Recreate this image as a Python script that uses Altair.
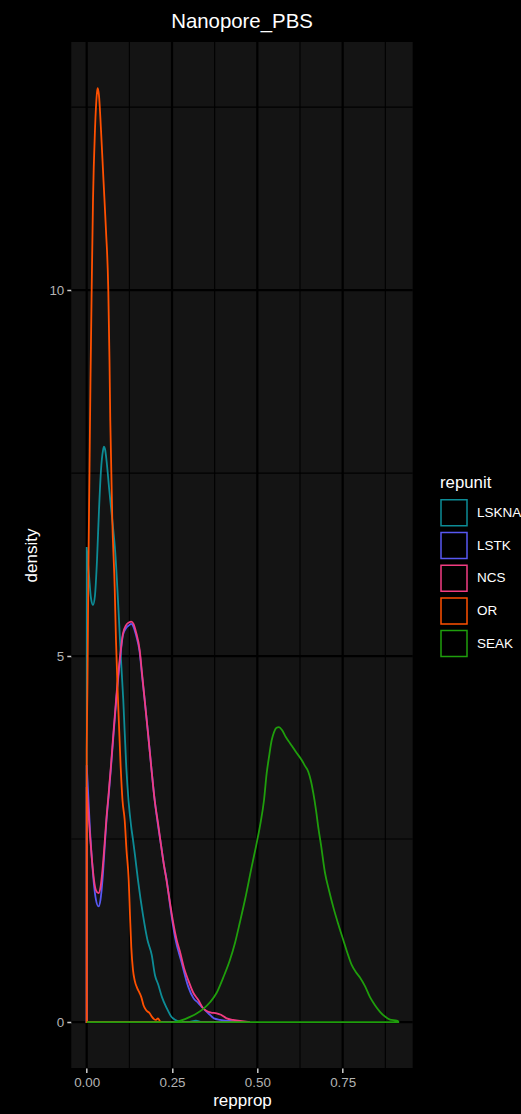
import altair as alt
import pandas as pd

# Density estimates of reporting-unit proportions (repprop vs density)
repunits = ["LSKNA", "LSTK", "NCS", "OR", "SEAK"]
colors = ["#0d8c96", "#5858f2", "#f23c82", "#ff5000", "#1f9e0c"]

lskna_x = [0.000, 0.0067, 0.0126, 0.0185, 0.0243, 0.0302, 0.0360, 0.0419, 0.0478, 0.0507,
           0.0536, 0.0595, 0.0653, 0.0750, 0.0838, 0.0932, 0.1005, 0.1072, 0.1160, 0.1225,
           0.1298, 0.1357, 0.1415, 0.1503, 0.1650, 0.1781, 0.1904, 0.2001, 0.2098, 0.2206,
           0.2344, 0.2470, 0.2587, 0.2734, 0.2968, 0.3202, 0.3349]
lskna_y = [6.49, 6.11, 5.79, 5.70, 5.83, 6.31, 6.99, 7.54, 7.81, 7.86,
           7.83, 7.61, 7.31, 6.86, 6.41, 5.63, 4.95, 4.40, 3.48, 3.03,
           2.69, 2.49, 2.28, 1.94, 1.46, 1.12, 0.92, 0.64, 0.51, 0.34,
           0.19, 0.08, 0.03, 0.007, 0.0, 0.02, 0.0]

lstk_x = [0.000, 0.0038, 0.0097, 0.0155, 0.0214, 0.0272, 0.0346, 0.0404, 0.0463, 0.0522,
          0.0580, 0.0645, 0.0712, 0.0785, 0.0867, 0.0961, 0.1064, 0.1151, 0.1239, 0.1307,
          0.1371, 0.1444, 0.1553, 0.1620, 0.1699, 0.1796, 0.1893, 0.1992, 0.2089, 0.2177,
          0.2265, 0.2344, 0.2441, 0.2587, 0.2783, 0.2977, 0.3123, 0.3270, 0.3408, 0.3563,
          0.3730, 0.3906, 0.4199, 0.4580]
lstk_y = [3.51, 3.17, 2.62, 2.21, 1.87, 1.67, 1.58, 1.67, 1.94, 2.35,
          2.76, 3.10, 3.48, 3.92, 4.40, 4.88, 5.29, 5.38, 5.42, 5.44,
          5.40, 5.29, 5.05, 4.74, 4.40, 3.95, 3.48, 3.03, 2.69, 2.42,
          2.14, 1.94, 1.60, 1.16, 0.81, 0.48, 0.33, 0.26, 0.19, 0.12,
          0.05, 0.03, 0.014, 0.0]

ncs_x = [0.000, 0.0038, 0.0097, 0.0155, 0.0214, 0.0272, 0.0346, 0.0404, 0.0463, 0.0522,
         0.0580, 0.0645, 0.0712, 0.0785, 0.0867, 0.0961, 0.1064, 0.1151, 0.1239, 0.1307,
         0.1371, 0.1444, 0.1553, 0.1620, 0.1699, 0.1796, 0.1893, 0.1992, 0.2089, 0.2177,
         0.2265, 0.2338, 0.2441, 0.2537, 0.2637, 0.2734, 0.2851, 0.2977, 0.3123, 0.3270,
         0.3408, 0.3516, 0.3642, 0.3809, 0.3935, 0.4102, 0.4287, 0.4492, 0.4785]
ncs_y = [3.21, 2.96, 2.55, 2.21, 1.94, 1.80, 1.76, 1.84, 2.08, 2.42,
         2.79, 3.13, 3.51, 3.96, 4.44, 4.92, 5.31, 5.42, 5.46, 5.47,
         5.44, 5.33, 5.08, 4.77, 4.40, 3.95, 3.48, 3.03, 2.72, 2.42,
         2.14, 1.94, 1.63, 1.35, 1.12, 0.96, 0.74, 0.57, 0.40, 0.30,
         0.19, 0.15, 0.13, 0.12, 0.10, 0.05, 0.03, 0.014, 0.0]

or_x = [0.000, 0.0023, 0.0047, 0.0082, 0.0111, 0.0146, 0.0185, 0.0243, 0.0302, 0.0322,
        0.0360, 0.0419, 0.0492, 0.0565, 0.0633, 0.0668, 0.0691, 0.0750, 0.0820, 0.0858,
        0.0917, 0.0996, 0.1049, 0.1113, 0.1166, 0.1231, 0.1269, 0.1307, 0.1357, 0.1406,
        0.1483, 0.1547, 0.1600, 0.1664, 0.1746, 0.1846, 0.1913, 0.1972, 0.2030, 0.2089,
        0.2148, 0.2186]
or_y = [3.72, 4.67, 6.04, 7.54, 8.77, 10.00, 11.23, 12.19, 12.70, 12.76,
        12.66, 12.19, 11.50, 10.82, 10.00, 9.04, 8.22, 6.86, 5.94, 5.22,
        4.40, 3.48, 3.03, 2.76, 2.35, 1.94, 1.46, 1.02, 0.71, 0.57,
        0.46, 0.40, 0.34, 0.23, 0.16, 0.12, 0.07, 0.04, 0.03, 0.05,
        0.01, 0.0]

seak_x = [0.000, 0.2441, 0.2646, 0.2880, 0.3027, 0.3232, 0.3416, 0.3613, 0.3809, 0.3994,
          0.4199, 0.4345, 0.4492, 0.4638, 0.4834, 0.4961, 0.5078, 0.5195, 0.5274, 0.5341,
          0.5420, 0.5488, 0.5561, 0.5634, 0.5722, 0.5839, 0.5957, 0.6132, 0.6299, 0.6396,
          0.6493, 0.6572, 0.6639, 0.6718, 0.6786, 0.6865, 0.6982, 0.7099, 0.7225, 0.7363,
          0.7518, 0.7627, 0.7764, 0.7890, 0.8007, 0.8154, 0.8301, 0.8447, 0.8594, 0.8740,
          0.8887, 0.9083, 0.9130]
seak_y = [0.0, 0.0, 0.007, 0.04, 0.07, 0.12, 0.18, 0.27, 0.40, 0.60,
          0.85, 1.08, 1.37, 1.67, 2.12, 2.40, 2.68, 3.03, 3.40, 3.62,
          3.85, 3.96, 4.02, 4.03, 3.99, 3.89, 3.81, 3.69, 3.58, 3.50,
          3.42, 3.29, 3.13, 2.90, 2.66, 2.42, 2.04, 1.80, 1.57, 1.35,
          1.12, 0.96, 0.78, 0.68, 0.61, 0.49, 0.34, 0.23, 0.14, 0.075,
          0.034, 0.018, 0.007]

x_major = [0.0, 0.25, 0.5, 0.75]
x_minor = [0.125, 0.375, 0.625, 0.875]
y_major = [0, 5, 10]
y_minor = [2.5, 7.5, 12.5]

series = {"LSKNA": (lskna_x, lskna_y), "LSTK": (lstk_x, lstk_y), "NCS": (ncs_x, ncs_y),
          "OR": (or_x, or_y), "SEAK": (seak_x, seak_y)}
rows = []
for name in repunits:
    xs, ys = series[name]
    for a, b in zip(xs, ys):
        rows.append({"repunit": name, "repprop": a, "density": b})
dens = pd.DataFrame(rows)

FONT = "Liberation Sans"
x_scale = alt.Scale(domain=[-0.0451, 0.9552], nice=False, zero=False)
y_scale = alt.Scale(domain=[-0.628, 13.39], nice=False, zero=False)

x_axis = alt.Axis(values=x_major, format=".2f", grid=False, domain=False,
                  tickColor="#cccccc", tickSize=4.5, tickWidth=1.5,
                  labelColor="#b3b3b3", labelFontSize=13.4, labelFont=FONT,
                  labelPadding=3, titleColor="#ffffff", titleFontSize=17,
                  titleFont=FONT, titleFontWeight="normal", titlePadding=4)
y_axis = alt.Axis(values=y_major, format="d", grid=False, domain=False,
                  tickColor="#cccccc", tickSize=4.5, tickWidth=1.5,
                  labelColor="#b3b3b3", labelFontSize=13.4, labelFont=FONT,
                  labelPadding=3, titleColor="#ffffff", titleFontSize=17,
                  titleFont=FONT, titleFontWeight="normal", titlePadding=8)


def vgrid(values, width):
    return alt.Chart(pd.DataFrame({"repprop": values})).mark_rule(
        color="#000000", strokeWidth=width
    ).encode(x=alt.X("repprop:Q", scale=x_scale, axis=x_axis, title="repprop"))


def hgrid(values, width):
    return alt.Chart(pd.DataFrame({"density": values})).mark_rule(
        color="#000000", strokeWidth=width
    ).encode(y=alt.Y("density:Q", scale=y_scale, axis=y_axis, title="density"))


curves = alt.Chart(dens).mark_area(
    fill="transparent", strokeWidth=1.8, interpolate="monotone"
).encode(
    x=alt.X("repprop:Q", scale=x_scale, axis=x_axis, title="repprop"),
    y=alt.Y("density:Q", scale=y_scale, axis=y_axis, stack=None, title="density"),
    stroke=alt.Stroke("repunit:N", scale=alt.Scale(domain=repunits, range=colors),
                      legend=alt.Legend(title="repunit", orient="none", legendX=368.7, legendY=433,
                                        symbolType="square", symbolSize=676,
                                        symbolStrokeWidth=1.5, symbolFillColor="#111111",
                                        labelColor="#ffffff", labelFontSize=13.5, labelFont=FONT,
                                        labelOffset=9, rowPadding=0.7, padding=0,
                                        titleColor="#ffffff", titleFontSize=16.8, titleFont=FONT,
                                        titleFontWeight="normal", titlePadding=7)),
)

chart = alt.layer(
    vgrid(x_minor, 1.1), hgrid(y_minor, 1.1), vgrid(x_major, 2.2), hgrid(y_major, 2.2), curves
).properties(
    width=341.4, height=1026,
    title=alt.TitleParams("Nanopore_PBS", color="#ffffff", fontSize=20.4, font=FONT,
                          fontWeight="normal", anchor="middle", frame="group", offset=9),
    background="#000000",
    padding={"left": 71.3, "top": 42, "right": 108.3, "bottom": 46},
    autosize=alt.AutoSizeParams(type="none"),
).configure_view(fill="#141414", stroke=None)

chart.save("out.html", embed_options={"renderer": "svg", "actions": False})
